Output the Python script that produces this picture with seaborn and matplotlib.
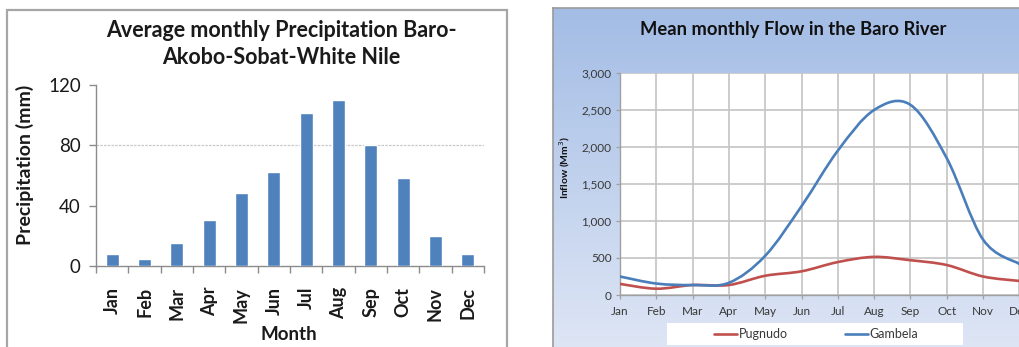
import numpy as np
import pandas as pd
import matplotlib
matplotlib.use("Agg")
import matplotlib.pyplot as plt
import seaborn as sns
from matplotlib.path import Path
from matplotlib.patches import PathPatch, Rectangle
from matplotlib.lines import Line2D
from matplotlib.ticker import FuncFormatter

# ---- data -------------------------------------------------------------
months = ["Jan", "Feb", "Mar", "Apr", "May", "Jun",
          "Jul", "Aug", "Sep", "Oct", "Nov", "Dec"]
precip_mm = [7.7, 4.9, 15.3, 30.3, 48.7, 62.0, 101.2, 110.0, 80.4, 58.4, 19.7, 7.7]

flow_months = months
pugnudo = [150, 85, 135, 135, 260, 320, 445, 515, 470, 405, 250, 190]
gambela = [250, 155, 135, 165, 530, 1200, 1950, 2500, 2570, 1850, 750, 420]

precip_ticks = [0, 40, 80, 120]
flow_ticks = [0, 500, 1000, 1500, 2000, 2500, 3000]

# ---- style ------------------------------------------------------------
sns.set_theme(style="white")
plt.rcParams["font.family"] = ["Lato", "DejaVu Sans"]

W, H = 1020, 347
fig = plt.figure(figsize=(W / 100, H / 100), dpi=100)
fig.patch.set_facecolor("white")


def fx(px):
    return px / W


def fy(py):
    return 1 - py / H


BAR_BLUE = "#4F81BD"
RED = "#C0504D"
BLUE = "#4A7EBB"
DARK = "#1a1a1a"

# ---- left panel: precipitation bars ----------------------------------
fig.patches.append(Rectangle((fx(7), fy(360)), fx(507) - fx(7), fy(10) - fy(360),
                             transform=fig.transFigure, fill=False,
                             edgecolor="#A6A6A6", linewidth=1.6, zorder=0))

ax1 = fig.add_axes([fx(96), fy(266), fx(484) - fx(96), fy(85) - fy(266)])
df_p = pd.DataFrame({"Month": months, "Precipitation": precip_mm})
sns.barplot(data=df_p, x="Month", y="Precipitation", color=BAR_BLUE,
            saturation=1, width=0.4, ax=ax1, zorder=3)
ax1.set_xlim(-0.5, len(months) - 0.5)
ax1.set_ylim(0, 120)
ax1.set_yticks(precip_ticks)
ax1.axhline(80, color="#C8C8C8", linewidth=0.9, linestyle=(0, (2, 1)), zorder=1)
for side in ("top", "right"):
    ax1.spines[side].set_visible(False)
for side in ("left", "bottom"):
    ax1.spines[side].set_color("#8C8C8C")
    ax1.spines[side].set_linewidth(1.0)
ax1.tick_params(axis="y", left=True, length=5, width=1.0, color="#8C8C8C",
                pad=6, labelsize=13.5, labelcolor=DARK)
ax1.set_xticks(range(len(months)))
ax1.set_xticklabels(months, rotation=90, fontsize=13, fontweight="bold",
                    color=DARK)
ax1.tick_params(axis="x", bottom=False, length=0, pad=15)
ax1.set_xticks(np.arange(-0.5, len(months), 1.0), minor=True)
ax1.tick_params(axis="x", which="minor", bottom=True, length=5, width=1.0,
                color="#8C8C8C")
ax1.set_xlabel("")
ax1.set_ylabel("")
fig.text(fx(289), fy(335), "Month", ha="center", va="center",
         fontsize=13.5, fontweight="bold", color=DARK)
fig.text(fx(25), fy(165), "Precipitation (mm)", rotation=90, ha="center",
         va="center", fontsize=14, fontweight="bold", color=DARK)
fig.text(fx(281), fy(44), "Average monthly Precipitation Baro-\nAkobo-Sobat-White Nile",
         ha="center", va="center", fontsize=15.5, fontweight="bold",
         linespacing=1.4, color=DARK)

# ---- right panel: chart area with gradient ---------------------------
bg = fig.add_axes([fx(553), 0, 1 - fx(553), fy(8)], zorder=0)
grad = np.linspace(0, 1, 256).reshape(-1, 1)
top_c = np.array([0.64, 0.74, 0.90])
bot_c = np.array([0.87, 0.90, 0.96])
img = top_c[None, None, :] * (1 - grad[:, :, None]) + bot_c[None, None, :] * grad[:, :, None]
bg.imshow(img, aspect="auto", extent=[0, 1, 0, 1], origin="upper")
bg.set_xlim(0, 1)
bg.set_ylim(0, 1)
bg.set_xticks([])
bg.set_yticks([])
for side in ("right", "bottom"):
    bg.spines[side].set_visible(False)
for side in ("left", "top"):
    bg.spines[side].set_color("#9A9A9A")
    bg.spines[side].set_linewidth(1.2)

fig.text(fx(793), fy(30), "Mean monthly Flow in the Baro River", ha="center",
         va="center", fontsize=13.2, fontweight="bold", color="#111111")

x_end = 11.3
ax2 = fig.add_axes([fx(620), fy(295), fx(620 + x_end * 36.3) - fx(620),
                    fy(73) - fy(295)], zorder=2)
ax2.set_facecolor("white")
ax2.set_xlim(0, x_end)
ax2.set_ylim(0, 3000)
ax2.set_yticks(flow_ticks)
ax2.yaxis.set_major_formatter(FuncFormatter(lambda v, p: f"{int(v):,}"))
ax2.set_xticks(range(len(flow_months)))
ax2.set_xticklabels(flow_months)
ax2.grid(True, color="#C4C4C4", linewidth=1.2)
ax2.set_axisbelow(True)
for side in ("top", "right"):
    ax2.spines[side].set_visible(False)
for side in ("left", "bottom"):
    ax2.spines[side].set_color("#A0A0A0")
    ax2.spines[side].set_linewidth(1.0)
ax2.tick_params(axis="both", length=3, width=0.9, color="#A0A0A0",
                labelsize=8.5, labelcolor="#383838")
ax2.tick_params(axis="y", left=True, pad=3)
ax2.tick_params(axis="x", bottom=True, pad=5)
fig.text(fx(565), fy(168), "Inflow (Mm$^{3}$)", rotation=90, ha="center",
         va="center", fontsize=7.5, fontweight="bold", color="#111111")


def smooth_path(xs, ys):
    """Smoothed line through the points as cubic Bezier segments."""
    pts = np.column_stack([xs, ys]).astype(float)
    n = len(pts)
    verts = [pts[0]]
    codes = [Path.MOVETO]
    for i in range(n - 1):
        p0 = pts[i - 1] if i > 0 else pts[i]
        p1 = pts[i]
        p2 = pts[i + 1]
        p3 = pts[i + 2] if i + 2 < n else pts[i + 1]
        verts += [p1 + (p2 - p0) / 6, p2 - (p3 - p1) / 6, p2]
        codes += [Path.CURVE4] * 3
    return Path(verts, codes)


xpos = np.arange(len(flow_months))
for series, color in ((pugnudo, RED), (gambela, BLUE)):
    ax2.add_patch(PathPatch(smooth_path(xpos, series), fill=False,
                            edgecolor=color, linewidth=1.9,
                            capstyle="round", zorder=3))

# legend box
fig.patches.append(Rectangle((fx(667), fy(345)), fx(963) - fx(667), fy(323) - fy(345),
                             transform=fig.transFigure, facecolor="white",
                             edgecolor="none", zorder=3))
handles = [Line2D([], [], color=RED, linewidth=1.9),
           Line2D([], [], color=BLUE, linewidth=1.9)]
leg = fig.legend(handles, ["Pugnudo", "Gambela"], loc="center",
                 bbox_to_anchor=(fx(816), fy(334)), ncol=2, frameon=False,
                 fontsize=9, handlelength=1.85, handletextpad=0.1,
                 columnspacing=4.6, labelcolor="#383838")
leg.set_zorder(4)

fig.savefig("out.png", dpi=100, facecolor="white")
